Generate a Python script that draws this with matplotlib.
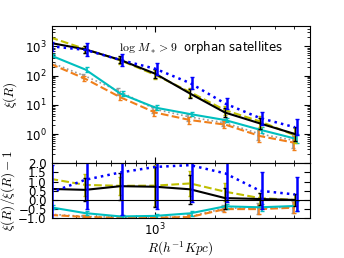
import matplotlib
matplotlib.use('Agg')
import matplotlib.pyplot as plt
import numpy as np

plt.rcParams['mathtext.fontset'] = 'cm'
plt.rcParams['font.size'] = 8.5
plt.rcParams['xtick.direction'] = 'in'
plt.rcParams['ytick.direction'] = 'in'
plt.rcParams['xtick.top'] = True
plt.rcParams['ytick.right'] = True
plt.rcParams['xtick.major.size'] = 4
plt.rcParams['ytick.major.size'] = 4
plt.rcParams['xtick.minor.size'] = 2
plt.rcParams['ytick.minor.size'] = 2
plt.rcParams['xtick.major.pad'] = 2.5

# separation bins (h^-1 Kpc)
R = [296, 444, 667, 1000, 1500, 2250, 3375, 5063]

# xi(R) for each sample
xi_black = [1300, 780, 340, 115, 24, 5.4, 2.3, 1.0]
xi_blue = [1000, 750, 340, 170, 55, 11, 3.5, 1.7]
xi_yellow = [2000, 800, 330, 105, 27, 6.5, 2.7, 0.9]
xi_cyan = [490, 160, 24, 8, 4.8, 3.0, 1.4, 0.7]
xi_orange = [250, 77, 18, 5.4, 3.0, 2.1, 0.85, 0.5]
xi_gray = [280, 95, 28, 7, 3.8, 2.4, 1.0, 0.6]

# errors in dex
dex_black = [0.1, 0.12, 0.12, 0.15, 0.15, 0.15, 0.2, 0.25]
dex_blue = [0.15, 0.22, 0.2, 0.2, 0.2, 0.2, 0.22, 0.28]
dex_yellow = [0.1, 0.12, 0.12, 0.15, 0.15, 0.15, 0.2, 0.25]
dex_cyan = [0.05, 0.07, 0.08, 0.08, 0.08, 0.08, 0.1, 0.15]
dex_orange = [0.05, 0.08, 0.1, 0.1, 0.12, 0.12, 0.2, 0.25]
dex_gray = [0.05, 0.08, 0.12, 0.12, 0.12, 0.12, 0.2, 0.25]

# xi/xibar - 1
r_black = [0.6, 0.55, 0.75, 0.72, 0.58, 0.1, 0.05, 0.0]
r_blue = [0.4, 1.1, 1.5, 1.8, 1.9, 1.45, 0.5, 0.3]
r_yellow = [1.15, 0.82, 0.77, 0.78, 0.9, 0.45, 0.1, 0.0]
r_cyan = [-0.4, -0.72, -0.9, -0.87, -0.73, -0.35, -0.4, -0.33]
r_orange = [-0.82, -0.93, -0.97, -0.97, -0.93, -0.5, -0.5, -0.42]
r_gray = [-0.78, -0.9, -0.95, -0.95, -0.9, -0.45, -0.45, -0.38]

e_black = [0.6, 0.63, 0.73, 1.1, 0.8, 0.57, 0.33, 0.33]
e_blue = [1.5, 1.6, 2.3, 2.3, 2.0, 1.55, 1.0, 0.93]
e_yellow = [0.55, 0.6, 0.5, 1.1, 0.7, 0.5, 0.3, 0.3]
e_cyan = [0.1, 0.1, 0.1, 0.1, 0.12, 0.15, 0.2, 0.25]
e_orange = [0.1, 0.1, 0.1, 0.1, 0.12, 0.15, 0.25, 0.3]
e_gray = [0.1, 0.1, 0.1, 0.1, 0.12, 0.15, 0.3, 0.33]

series = [
    # xi, dex, ratio, err, color, ls, lw, elw, shift
    (xi_gray, dex_gray, r_gray, e_gray, '0.6', ':', 1.2, 1.2, 0.975),
    (xi_orange, dex_orange, r_orange, e_orange, '#f07f1a', '--', 1.5, 1.2, 0.99),
    (xi_cyan, dex_cyan, r_cyan, e_cyan, 'c', '-', 1.5, 1.2, 1.025),
    (xi_yellow, dex_yellow, r_yellow, e_yellow, 'y', '--', 1.5, 1.2, 0.995),
    (xi_black, dex_black, r_black, e_black, 'k', '-', 1.5, 1.0, 1.0),
    (xi_blue, dex_blue, r_blue, e_blue, 'b', ':', 1.8, 1.8, 1.02),
]

fig = plt.figure(figsize=(3.44, 2.58), dpi=100)
gs = fig.add_gridspec(2, 1, height_ratios=[2.5, 1], hspace=0,
                      left=0.150, right=0.900, top=0.900, bottom=0.154)
ax1 = fig.add_subplot(gs[0])
ax2 = fig.add_subplot(gs[1], sharex=ax1)

for xi, dex, rr, ee, c, ls, lw, elw, sh in series:
    xi = np.array(xi)
    d = np.array(dex)
    xs = np.array(R) * sh
    lo = xi * (1 - 10 ** (-d))
    hi = xi * (10 ** d - 1)
    ax1.plot(R, xi, color=c, ls=ls, lw=lw)
    ax1.errorbar(xs, xi, yerr=[lo, hi], fmt='none', ecolor=c, elinewidth=elw, capsize=1.5)
    ax2.plot(R, rr, color=c, ls=ls, lw=lw)
    ax2.errorbar(xs, rr, yerr=ee, fmt='none', ecolor=c, elinewidth=elw, capsize=1.5)

ax1.set_xscale('log')
ax1.set_yscale('log')
ax1.set_xlim(300, 6000)
ax1.set_ylim(0.1, 5000)
ax1.set_yticks([1, 10, 100, 1000])
ax1.set_ylabel(r'$\xi(R)$', fontsize=9.5)
ax1.yaxis.set_label_coords(-0.125, 0.5)
plt.setp(ax1.get_xticklabels(), visible=False)
ax1.text(0.262, 0.845, r'$\log\,M_*>9$  orphan satellites', transform=ax1.transAxes,
         va='center', ha='left')

ax2.axhline(0, color='k', lw=0.8)
ax2.axhline(2, color='0.5', lw=1.5)
ax2.set_ylim(-1, 2)
ax2.set_yticks([2.0, 1.5, 1.0, 0.5, 0.0, -0.5, -1.0])
ax2.set_ylabel(r'$\xi(R)/\bar{\xi}(R)-1$', fontsize=9.5)
ax2.yaxis.set_label_coords(-0.133, 0.5)
ax2.set_xlabel(r'$R(h^{-1}Kpc)$', fontsize=9.5, labelpad=1)

fig.savefig('out.png', dpi=100)
